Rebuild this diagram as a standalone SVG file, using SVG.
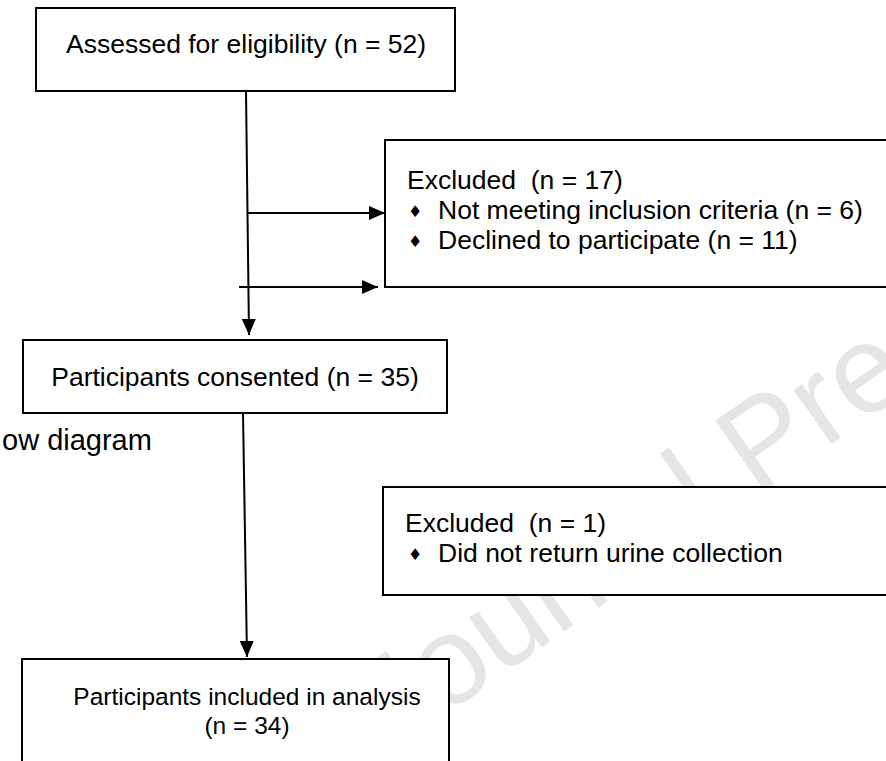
<svg xmlns="http://www.w3.org/2000/svg" width="886" height="761" viewBox="0 0 886 761">
<style>
.box{fill:#ffffff;stroke:#000000;stroke-width:2}
.t{font-family:"Liberation Sans",Arial,sans-serif;font-size:26.5px;fill:#000000}
.b{font-family:"DejaVu Sans",sans-serif;font-size:16px;fill:#000000}
.ln{fill:none;stroke:#000000;stroke-width:2}
.wm{font-family:"Liberation Sans",Arial,sans-serif;font-size:125px;fill:#e5e5e5}
</style>
<defs>
<marker id="ah" viewBox="0 0 16 14" refX="16" refY="7" markerWidth="16" markerHeight="14" markerUnits="userSpaceOnUse" orient="auto">
<path d="M0,0 L16,7 L0,14 Z" fill="#000000"/>
</marker>
</defs>
<rect width="886" height="761" fill="#ffffff"/>
<g id="watermark">
<text class="wm" x="392" y="752" transform="rotate(-35 392 752)">Journal Pre-proof</text>
</g>
<g id="title">
<text class="t" x="2" y="450" style="font-size:29px">ow diagram</text>
</g>
<g id="connectors">
<line class="ln" x1="246" y1="91" x2="249" y2="335" marker-end="url(#ah)"/>
<line class="ln" x1="247" y1="213" x2="385" y2="213" marker-end="url(#ah)"/>
<line class="ln" x1="239" y1="287" x2="378" y2="287" marker-end="url(#ah)"/>
<line class="ln" x1="243" y1="413" x2="247" y2="657" marker-end="url(#ah)"/>
</g>
<g id="n1">
<rect class="box" x="36" y="8" width="419" height="83"/>
<text class="t" x="66" y="53">Assessed for eligibility (n = 52)</text>
</g>
<g id="n2">
<rect class="box" x="385" y="140" width="520" height="147"/>
<text class="t" x="407" y="189" xml:space="preserve">Excluded  (n = 17)</text>
<text class="b" x="408" y="217">♦</text>
<text class="t" x="438" y="219">Not meeting inclusion criteria (n = 6)</text>
<text class="b" x="408" y="247">♦</text>
<text class="t" x="438" y="249">Declined to participate (n = 11)</text>
</g>
<g id="n3">
<rect class="box" x="23" y="340" width="424" height="73"/>
<text class="t" x="235" y="386" text-anchor="middle">Participants consented (n = 35)</text>
</g>
<g id="n4">
<rect class="box" x="383" y="487" width="520" height="108"/>
<text class="t" x="405" y="532" xml:space="preserve">Excluded  (n = 1)</text>
<text class="b" x="408" y="560">♦</text>
<text class="t" x="438" y="562">Did not return urine collection</text>
</g>
<g id="n5">
<rect class="box" x="22" y="659" width="427" height="120"/>
<text class="t" x="247" y="705" text-anchor="middle" style="font-size:24.5px">Participants included in analysis</text>
<text class="t" x="247" y="734" text-anchor="middle" style="font-size:24.5px">(n = 34)</text>
</g>
</svg>
